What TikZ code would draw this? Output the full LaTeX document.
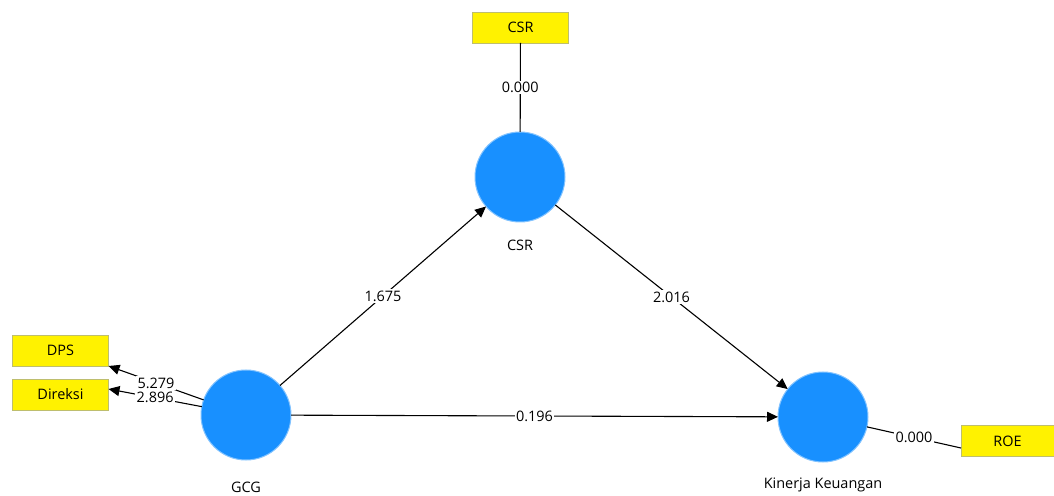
\documentclass[tikz,border=0pt]{standalone}
\usepackage{fontspec}
\setmainfont{Open Sans}
\usetikzlibrary{arrows.meta}
\definecolor{nodeblue}{RGB}{24,144,255}
\definecolor{edgeblue}{RGB}{130,195,255}
\definecolor{boxedge}{RGB}{190,190,110}
\begin{document}
\begin{tikzpicture}[x=1bp,y=-1bp,
  lv/.style={circle,fill=nodeblue,draw=edgeblue,line width=1bp,minimum size=90bp,inner sep=0,outer sep=0},
  ind/.style={fill=yellow,draw=boxedge,line width=0.8bp,minimum width=96bp,minimum height=31bp,inner sep=0,outer sep=0,font=\fontsize{14.5}{16}\selectfont},
  lab/.style={font=\fontsize{14.5}{16}\selectfont},
  wt/.style={fill=white,inner sep=1.5bp,font=\fontsize{14.5}{16}\selectfont},
  conn/.style={line width=1.1bp},
  arr/.style={conn,-{Triangle[length=11bp,width=10bp]}}]
\useasboundingbox (0,0) rectangle (1054,496);
% latent variables
\node[lv] (csr) at (520,177) {};
\node[lv] (gcg) at (246,415) {};
\node[lv] (kk) at (823,417) {};
\node[lab] (csrl) at (520,245) {CSR};
\node[lab] (gcgl) at (246,487) {GCG};
\node[lab] (kkl) at (823,485) {Kinerja Keuangan};
% indicators
\node[ind] (csrb) at (520.5,27.5) {CSR};
\node[ind] (dps) at (60.5,350.5) {DPS};
\node[ind] (dir) at (60.5,394.5) {Direksi};
\node[ind,minimum width=93bp] (roe) at (1007.5,441) {ROE};
% outer model
\draw[conn] (csrb) -- node[wt] (w1) {0.000} (csr);
\draw[arr] (gcg) -- node[wt] (w2) {5.279} (dps.south east);
\draw[arr] (gcg) -- node[wt] (w3) {2.896} ([yshift=5.5bp]dir.east);
\draw[conn] (kk) -- node[wt] (w4) {0.000} ([yshift=-7bp]roe.west);
% inner model
\draw[arr] (gcg) -- node[wt] (w5) {1.675} (csr);
\draw[arr] (csr) -- node[wt] (w6) {2.016} (kk);
\draw[arr] (gcg) -- node[wt] (w7) {0.196} (kk);
\end{tikzpicture}
\end{document}
